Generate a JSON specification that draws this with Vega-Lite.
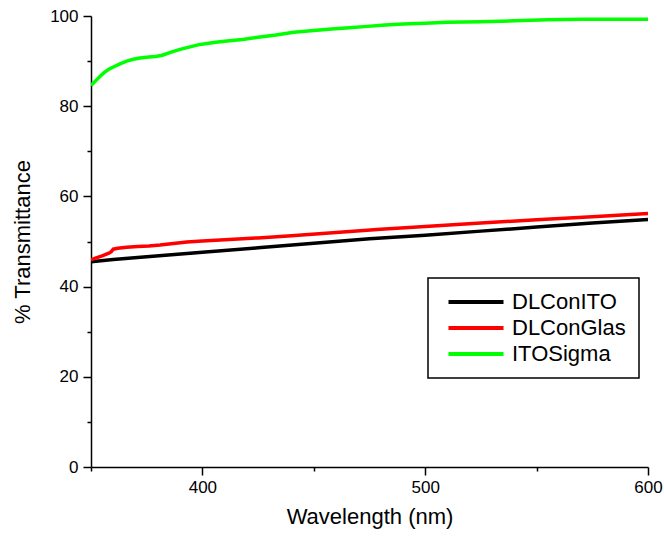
{
  "$schema": "https://vega.github.io/schema/vega-lite/v6.json",
  "autosize": "none",
  "width": 557,
  "height": 451,
  "padding": {"left": 91, "top": 16, "right": 16, "bottom": 72},
  "background": "white",
  "config": {
    "view": {"stroke": null},
    "font": "Liberation Sans",
    "legend": {"strokeWidth": 1.5},
    "axis": {
      "grid": false,
      "domainColor": "black",
      "domainWidth": 1.5,
      "tickColor": "black",
      "tickWidth": 1.5,
      "labelColor": "black",
      "labelFont": "Liberation Sans",
      "labelFontSize": 17,
      "titleFont": "Liberation Sans",
      "titleFontSize": 22,
      "titleFontWeight": "normal",
      "titleColor": "black"
    }
  },
  "data": {
    "values": [
      {"wl": 350, "T": 45.5, "series": "DLConITO"},
      {"wl": 360, "T": 46.0, "series": "DLConITO"},
      {"wl": 375, "T": 46.6, "series": "DLConITO"},
      {"wl": 400, "T": 47.6, "series": "DLConITO"},
      {"wl": 425, "T": 48.6, "series": "DLConITO"},
      {"wl": 450, "T": 49.6, "series": "DLConITO"},
      {"wl": 475, "T": 50.6, "series": "DLConITO"},
      {"wl": 500, "T": 51.4, "series": "DLConITO"},
      {"wl": 525, "T": 52.3, "series": "DLConITO"},
      {"wl": 550, "T": 53.2, "series": "DLConITO"},
      {"wl": 575, "T": 54.1, "series": "DLConITO"},
      {"wl": 600, "T": 54.9, "series": "DLConITO"},

      {"wl": 350, "T": 45.9, "series": "DLConGlas"},
      {"wl": 352, "T": 46.3, "series": "DLConGlas"},
      {"wl": 355, "T": 46.8, "series": "DLConGlas"},
      {"wl": 358, "T": 47.4, "series": "DLConGlas"},
      {"wl": 359, "T": 47.7, "series": "DLConGlas"},
      {"wl": 360, "T": 48.3, "series": "DLConGlas"},
      {"wl": 362, "T": 48.5, "series": "DLConGlas"},
      {"wl": 366, "T": 48.7, "series": "DLConGlas"},
      {"wl": 371, "T": 48.9, "series": "DLConGlas"},
      {"wl": 376, "T": 49.0, "series": "DLConGlas"},
      {"wl": 381, "T": 49.2, "series": "DLConGlas"},
      {"wl": 386, "T": 49.5, "series": "DLConGlas"},
      {"wl": 393, "T": 49.9, "series": "DLConGlas"},
      {"wl": 400, "T": 50.1, "series": "DLConGlas"},
      {"wl": 410, "T": 50.4, "series": "DLConGlas"},
      {"wl": 425, "T": 50.8, "series": "DLConGlas"},
      {"wl": 440, "T": 51.3, "series": "DLConGlas"},
      {"wl": 460, "T": 52.0, "series": "DLConGlas"},
      {"wl": 480, "T": 52.7, "series": "DLConGlas"},
      {"wl": 500, "T": 53.3, "series": "DLConGlas"},
      {"wl": 525, "T": 54.1, "series": "DLConGlas"},
      {"wl": 550, "T": 54.8, "series": "DLConGlas"},
      {"wl": 575, "T": 55.5, "series": "DLConGlas"},
      {"wl": 600, "T": 56.2, "series": "DLConGlas"},

      {"wl": 350, "T": 84.6, "series": "ITOSigma"},
      {"wl": 352, "T": 85.6, "series": "ITOSigma"},
      {"wl": 354, "T": 86.6, "series": "ITOSigma"},
      {"wl": 356, "T": 87.5, "series": "ITOSigma"},
      {"wl": 358, "T": 88.2, "series": "ITOSigma"},
      {"wl": 360, "T": 88.7, "series": "ITOSigma"},
      {"wl": 363, "T": 89.4, "series": "ITOSigma"},
      {"wl": 366, "T": 90.0, "series": "ITOSigma"},
      {"wl": 369, "T": 90.4, "series": "ITOSigma"},
      {"wl": 372, "T": 90.7, "series": "ITOSigma"},
      {"wl": 376, "T": 90.9, "series": "ITOSigma"},
      {"wl": 379, "T": 91.0, "series": "ITOSigma"},
      {"wl": 382, "T": 91.3, "series": "ITOSigma"},
      {"wl": 386, "T": 92.0, "series": "ITOSigma"},
      {"wl": 390, "T": 92.6, "series": "ITOSigma"},
      {"wl": 394, "T": 93.1, "series": "ITOSigma"},
      {"wl": 398, "T": 93.6, "series": "ITOSigma"},
      {"wl": 402, "T": 93.9, "series": "ITOSigma"},
      {"wl": 406, "T": 94.2, "series": "ITOSigma"},
      {"wl": 410, "T": 94.4, "series": "ITOSigma"},
      {"wl": 418, "T": 94.8, "series": "ITOSigma"},
      {"wl": 425, "T": 95.3, "series": "ITOSigma"},
      {"wl": 433, "T": 95.8, "series": "ITOSigma"},
      {"wl": 441, "T": 96.4, "series": "ITOSigma"},
      {"wl": 450, "T": 96.8, "series": "ITOSigma"},
      {"wl": 458, "T": 97.1, "series": "ITOSigma"},
      {"wl": 466, "T": 97.4, "series": "ITOSigma"},
      {"wl": 474, "T": 97.7, "series": "ITOSigma"},
      {"wl": 482, "T": 98.0, "series": "ITOSigma"},
      {"wl": 490, "T": 98.2, "series": "ITOSigma"},
      {"wl": 500, "T": 98.4, "series": "ITOSigma"},
      {"wl": 510, "T": 98.6, "series": "ITOSigma"},
      {"wl": 525, "T": 98.7, "series": "ITOSigma"},
      {"wl": 540, "T": 98.95, "series": "ITOSigma"},
      {"wl": 555, "T": 99.15, "series": "ITOSigma"},
      {"wl": 570, "T": 99.3, "series": "ITOSigma"},
      {"wl": 585, "T": 99.3, "series": "ITOSigma"},
      {"wl": 600, "T": 99.3, "series": "ITOSigma"}
    ]
  },
  "mark": {"type": "line", "strokeWidth": 3.5, "clip": true},
  "encoding": {
    "x": {
      "field": "wl",
      "type": "quantitative",
      "scale": {"domain": [350, 600], "nice": false, "zero": false},
      "axis": {
        "title": "Wavelength (nm)",
        "values": [350, 400, 450, 500, 550, 600],
        "labelExpr": "datum.value % 100 === 0 ? datum.label : ''",
        "tickSize": {"condition": {"test": "datum.value % 100 === 0", "value": 8}, "value": 4},
        "labelPadding": 4,
        "titlePadding": 11,
        "labelFlush": false
      }
    },
    "y": {
      "field": "T",
      "type": "quantitative",
      "scale": {"domain": [0, 100], "nice": false},
      "axis": {
        "title": "% Transmittance",
        "values": [0, 10, 20, 30, 40, 50, 60, 70, 80, 90, 100],
        "labelExpr": "datum.value % 20 === 0 ? datum.label : ''",
        "tickSize": {"condition": {"test": "datum.value % 20 === 0", "value": 8}, "value": 4},
        "labelPadding": 5,
        "titlePadding": 15,
        "labelFlush": false
      }
    },
    "color": {
      "field": "series",
      "type": "nominal",
      "scale": {
        "domain": ["DLConITO", "DLConGlas", "ITOSigma"],
        "range": ["#000000", "#FF0000", "#00FF00"]
      },
      "legend": {
        "title": null,
        "orient": "none",
        "legendX": 337,
        "legendY": 262,
        "strokeColor": "black",
        "fillColor": "white",
        "padding": 13,
        "rowPadding": 4,
        "symbolType": "M-5,0H5",
        "symbolSize": 121,
        "symbolStrokeWidth": 4,
        "symbolOffset": 24,
        "labelOffset": 25,
        "labelFont": "Liberation Sans",
        "labelFontSize": 22,
        "labelColor": "black",
        "labelLimit": 300
      }
    }
  }
}
